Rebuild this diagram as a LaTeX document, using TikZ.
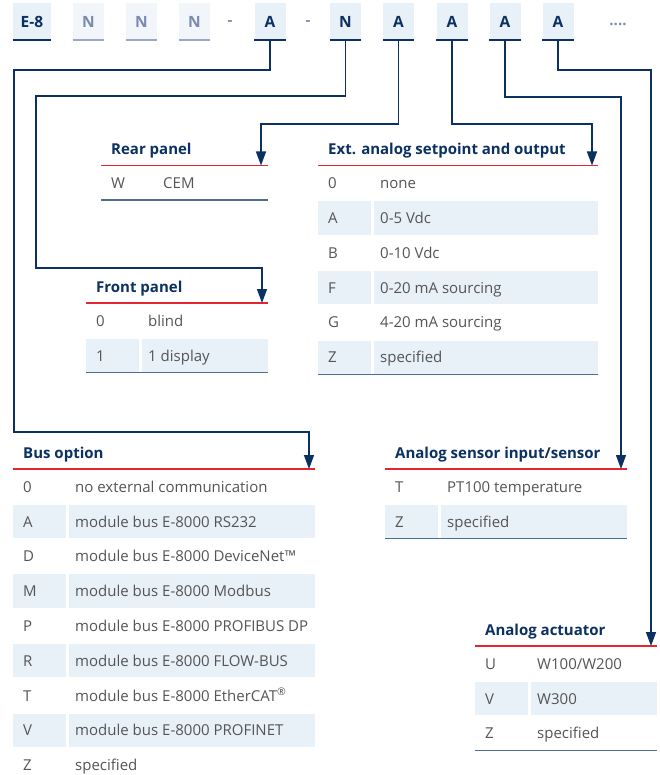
\documentclass[tikz,border=0pt]{standalone}
\usepackage{fontspec}
\setmainfont{Open Sans}
\usetikzlibrary{arrows.meta}
\definecolor{navy}{HTML}{0A3161}
\definecolor{redl}{HTML}{E52532}
\definecolor{rowbg}{HTML}{E8F0F8}
\definecolor{botl}{HTML}{4D6D95}
\definecolor{txtg}{HTML}{555555}
\definecolor{fadebg}{HTML}{F2F6FB}
\definecolor{fadetx}{HTML}{7A8AB0}
\definecolor{fadeul}{HTML}{9AA8C6}
\newcommand\rh{34.8}
\newcommand\ftable[6]{%
  \node[ttl, anchor=base west] (#1-title) at (#2+10,#4-11) {#5};
  \draw[redline] (#2,#4) -- (#3,#4);
  \foreach \k/\v [count=\i from 0] in {#6} {
    \pgfmathsetmacro\yt{#4+\i*\rh}
    \ifodd\i
      \fill[rowbg] (#2,\yt+1) rectangle (#2+53,\yt+\rh-0.5);
      \fill[rowbg] (#2+56,\yt+1) rectangle (#3,\yt+\rh-0.5);
    \fi
    \node[cell, anchor=base west] (#1-k\i) at (#2+10,\yt+\rh/2+5.8) {\k};
    \node[cell, anchor=base west] (#1-v\i) at (#2+62,\yt+\rh/2+5.8) {\v};
  }
}
\begin{document}
\begin{tikzpicture}[x=1pt,y=-1pt,
  topbox/.style={fill=rowbg, minimum width=31pt, minimum height=37pt, inner sep=0,
    font=\fontsize{15.5}{18}\bfseries, text=navy},
  fadebox/.style={topbox, fill=fadebg, text=fadetx},
  dashlbl/.style={font=\fontsize{15}{18}\bfseries, text=fadetx, inner sep=0},
  ttl/.style={font=\fontsize{15}{17}\bfseries, text=navy, inner sep=0},
  cell/.style={font=\fontsize{15}{17}\selectfont, text=txtg, inner sep=0},
  redline/.style={draw=redl, line width=1.3pt},
  botline/.style={draw=botl, line width=1.6pt},
  conn/.style={draw=navy, line width=1.4pt, line join=miter,
    -{Triangle[width=10pt,length=14pt]}}]
\useasboundingbox (0,0) rectangle (660,775);
\fill[white] (0,0) rectangle (660,775);

% top code row
\node[topbox, minimum width=38pt] (e8) at (32,21.5) {E-8};
\node[fadebox] (n1) at (88.5,21.5) {N};
\node[fadebox] (n2) at (141.5,21.5) {N};
\node[fadebox] (n3) at (194.5,21.5) {N};
\node[dashlbl] (d1) at (230,23) {-};
\node[topbox] (a1) at (270,21.5) {A};
\node[dashlbl] (d2) at (308,23) {-};
\node[topbox] (n4) at (345.5,21.5) {N};
\node[topbox] (a2) at (398.5,21.5) {A};
\node[topbox] (a3) at (452,21.5) {A};
\node[topbox] (a4) at (505,21.5) {A};
\node[topbox] (a5) at (558,21.5) {A};
\node[dashlbl] (dots) at (618,24) {....};
\foreach \b in {e8,a1,n4,a2,a3,a4,a5}
  \draw[navy, line width=1.5pt] (\b.south west) -- (\b.south east);
\foreach \b in {n1,n2,n3}
  \draw[fadeul, line width=1.5pt] (\b.south west) -- (\b.south east);

% tables
\ftable{rear}{101}{268}{165.5}{Rear panel}{W/CEM}
\draw[botline] (101,165.5+\rh) -- (268,165.5+\rh);

\ftable{ext}{318}{598}{165.5}{Ext. analog setpoint and output}%
  {0/none, A/0-5 Vdc, B/0-10 Vdc, F/0-20 mA sourcing, G/4-20 mA sourcing, Z/specified}
\draw[botline] (318,165.5+6*\rh) -- (598,165.5+6*\rh);

\ftable{front}{86}{268}{303}{Front panel}{0/blind, 1/1 display}
\draw[botline] (86,303+2*\rh) -- (268,303+2*\rh);

\ftable{bus}{13}{315}{469}{Bus option}%
  {0/no external communication, A/module bus E-8000 RS232,
   D/module bus E-8000 DeviceNet™, M/module bus E-8000 Modbus,
   P/module bus E-8000 PROFIBUS DP, R/module bus E-8000 FLOW-BUS,
   T/{module bus E-8000 EtherCAT\textsuperscript{®}}, V/module bus E-8000 PROFINET,
   Z/specified}

\ftable{sens}{385}{627}{469}{Analog sensor input/sensor}%
  {T/PT100 temperature, Z/specified}
\draw[botline] (385,469+2*\rh) -- (627,469+2*\rh);

\ftable{act}{475}{657}{646}{Analog actuator}%
  {U/{W100/W200}, V/W300, Z/specified}
\draw[botline] (475,646+3*\rh) -- (657,646+3*\rh);

% arrow end points
\coordinate (busarr) at (309,469);
\coordinate (frontarr) at (262,303);
\coordinate (reararr) at (261,165.5);
\coordinate (extarr) at (592,165.5);
\coordinate (sensarr) at (621,469);
\coordinate (actarr) at (651,646);

% connectors
\draw[conn] (a1.south) |- (14,70) |- (309,432) -- (busarr);
\draw[conn] (n4.south) |- (36,96) |- (262,268) -- (frontarr);
\draw[conn] (a2.south) |- (reararr |- 0,124) -- (reararr);
\draw[conn] (a3.south) |- (extarr |- 0,124) -- (extarr);
\draw[conn] (a4.south) |- (sensarr |- 0,97) -- (sensarr);
\draw[conn] (a5.south) |- (actarr |- 0,70) -- (actarr);
\end{tikzpicture}
\end{document}
